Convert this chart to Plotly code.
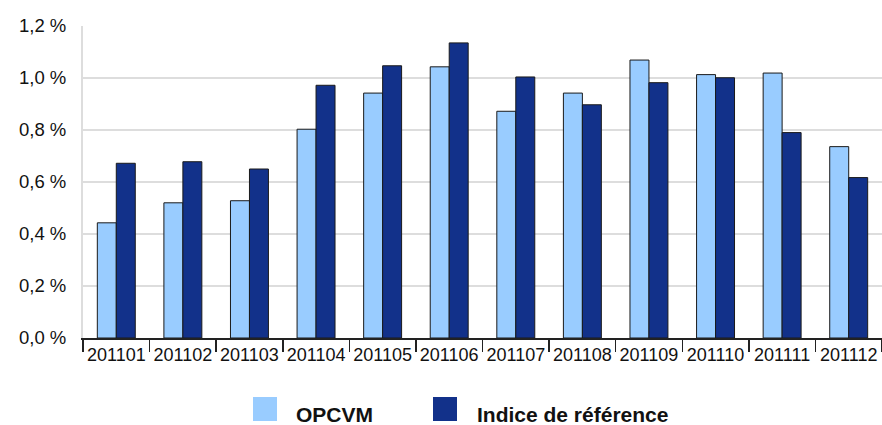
import plotly.graph_objects as go

categories = ["201101", "201102", "201103", "201104", "201105", "201106",
              "201107", "201108", "201109", "201110", "201111", "201112"]
opcvm = [0.443, 0.520, 0.528, 0.803, 0.942, 1.043, 0.872, 0.942, 1.069, 1.013, 1.019, 0.736]
indice = [0.672, 0.678, 0.650, 0.972, 1.047, 1.135, 1.004, 0.897, 0.982, 1.001, 0.790, 0.617]
series_names = ["OPCVM", "Indice de référence"]
colors = ["#99CCFF", "#12318A"]
y_ticks = [0, 0.2, 0.4, 0.6, 0.8, 1.0, 1.2]
y_tick_text = [("%.1f" % v).replace(".", ",") + " %" for v in y_ticks]

W, H = 882, 425
ML, MR, MT, MB = 83, 0, 26, 425 - 338
PW, PH = W - ML - MR, H - MT - MB

def px_x(x):  # window pixel -> paper
    return (x - ML) / PW

def px_y(y):
    return (H - MB - y) / PH

fig = go.Figure()
for name, vals, col in zip(series_names, [opcvm, indice], colors):
    fig.add_trace(go.Bar(x=categories, y=vals, name=name, marker_color=col,
                         marker_line_color="#1a1a1a", marker_line_width=1,
                         showlegend=False, hoverinfo="skip"))

font = "Liberation Sans, Arial, sans-serif"
fig.update_layout(
    width=W, height=H,
    margin=dict(l=ML, r=MR, t=MT, b=MB, autoexpand=False),
    paper_bgcolor="white", plot_bgcolor="white",
    barmode="group", bargap=0.43, bargroupgap=0,
    font=dict(family=font, size=18, color="#111111"),
)
fig.update_xaxes(
    type="category", range=[-0.5, 11.5],
    showline=True, linecolor="#222222", linewidth=1.5,
    ticks="outside", ticklen=12, tickcolor="#222222", tickwidth=1.5,
    tickson="boundaries", showgrid=False, tickangle=0,
    tickfont=dict(size=18, family=font, color="#111111"),
)
fig.update_yaxes(
    range=[0, 1.2], tickmode="array", tickvals=y_ticks, ticktext=y_tick_text,
    showgrid=True, gridcolor="#DDDDDD", gridwidth=2,
    showline=True, linecolor="#DDDDDD", linewidth=2,
    zeroline=False, ticks="", ticklabelstandoff=11,
    tickfont=dict(size=18.5, family=font, color="#111111"),
)

# legend drawn manually
legend_items = [(253, 294), (433, 475)]
for (sx, tx), name, col in zip(legend_items, series_names, colors):
    fig.add_shape(type="rect", xref="paper", yref="paper",
                  x0=px_x(sx), x1=px_x(sx + 24), y0=px_y(421), y1=px_y(397),
                  fillcolor=col, line_width=0)
    fig.add_annotation(xref="paper", yref="paper", x=px_x(tx), y=px_y(414),
                       xanchor="left", yanchor="middle", showarrow=False,
                       text="<b>%s</b>" % name,
                       font=dict(size=21, family=font, color="#111111"))

fig.write_html("out.html",
               config={"displayModeBar": False, "staticPlot": True},
               post_script="document.body.style.margin='0';"
                           "document.body.style.overflow='hidden';")
